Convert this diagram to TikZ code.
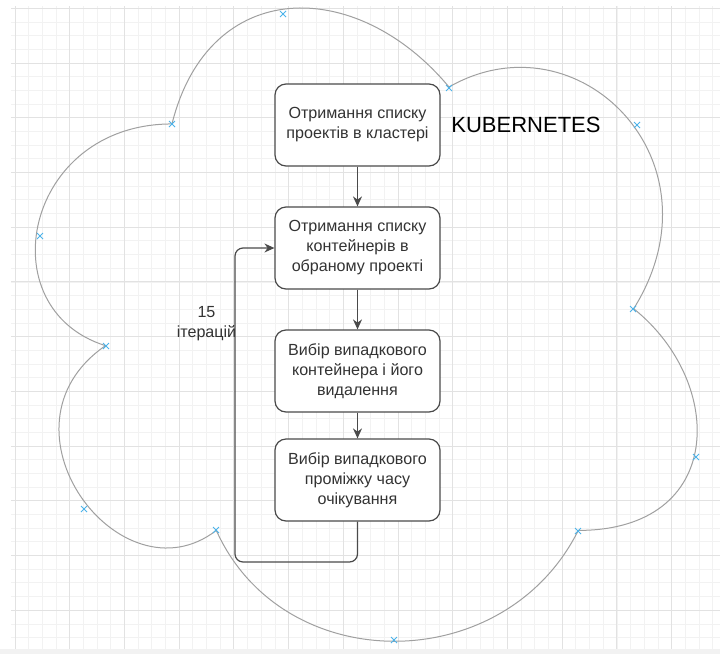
\documentclass[tikz,border=0pt]{standalone}
\usepackage{fontspec}
\setmainfont{Liberation Sans}
\usetikzlibrary{arrows.meta}

\definecolor{gridminor}{HTML}{F2F2F2}
\definecolor{gridmajor}{HTML}{E2E2E2}
\definecolor{cloudline}{HTML}{A0A0A0}
\definecolor{boxline}{HTML}{4A4A4A}
\definecolor{txtgray}{HTML}{333333}
\definecolor{xmark}{HTML}{4CB3EA}

\tikzset{
  stepbox/.style={draw=boxline, line width=1.2pt, rounded corners=11pt, fill=white,
    minimum width=165pt, minimum height=82pt, inner sep=0pt, align=center,
    text=txtgray, font=\fontsize{16.1}{20}\selectfont},
  flow/.style={draw=boxline, line width=1.2pt, -{Stealth[length=10pt,width=9pt]}},
  cross/.style={xmark, line width=0.9pt}
}

\begin{document}
\begin{tikzpicture}[x=1pt, y=-1pt]
  \useasboundingbox (0,0) rectangle (720,654);
  \fill[white] (0,0) rectangle (720,654);
  \fill[black!5] (0,649) rectangle (720,654);
  % grid
  \begin{scope}
    \clip (11,6) rectangle (720,649);
    \foreach \k in {0,...,51}{%
      \draw[gridminor, line width=0.8pt] ({15+13.68*\k},6) -- ({15+13.68*\k},649);
    }
    \foreach \k in {0,...,46}{%
      \draw[gridminor, line width=0.8pt] (11,{8.3+13.68*\k}) -- (720,{8.3+13.68*\k});
    }
    \foreach \k in {0,...,12}{%
      \draw[gridmajor, line width=0.9pt] ({15+54.72*\k},6) -- ({15+54.72*\k},649);
    }
    \foreach \k in {0,...,11}{%
      \draw[gridmajor, line width=0.9pt] (11,{8.3+54.72*\k}) -- (720,{8.3+54.72*\k});
    }
  \end{scope}

  % cloud
  \begin{scope}[shift={(-12.7pt,60.8pt)}, x=738.7pt, y=-739pt]
    \draw[cloudline, line width=1pt] (0.25,0.25)
      .. controls (0.05,0.25) and (0,0.5) .. (0.16,0.55)
      .. controls (0,0.66) and (0.18,0.9) .. (0.31,0.8)
      .. controls (0.4,1) and (0.7,1) .. (0.8,0.8)
      .. controls (1,0.8) and (1,0.6) .. (0.875,0.5)
      .. controls (1,0.3) and (0.8,0.1) .. (0.625,0.2)
      .. controls (0.5,0.05) and (0.3,0.05) .. (0.25,0.25) -- cycle;
  \end{scope}
  \foreach \px/\py in {283/14, 449/88, 637/125, 633/309, 696/457, 578/531,
      394/640, 216/530, 84/509, 106/346, 40/236, 172/124}{%
    \draw[cross] (\px-3,\py-3) -- (\px+3,\py+3) (\px-3,\py+3) -- (\px+3,\py-3);
  }

  \node[font=\fontsize{22}{26}\selectfont] (k8s) at (526,125) {KUBERNETES};

  \node[stepbox] (projects) at (357.5,125) {Отримання списку\\проектів в кластері};
  \node[stepbox] (containers) at (357.5,248) {Отримання списку\\контейнерів в\\обраному проекті};
  \node[stepbox] (remove) at (357.5,371) {Вибір випадкового\\контейнера і його\\видалення};
  \node[stepbox] (wait) at (357.5,480) {Вибір випадкового\\проміжку часу\\очікування};

  \draw[flow] (projects) -- (containers);
  \draw[flow] (containers) -- (remove);
  \draw[flow] (remove) -- (wait);

  \coordinate (loopcorner) at (235,562);
  \draw[flow, rounded corners=8pt] (wait.south) |- (loopcorner) |- (containers.west);

  \node[text=txtgray, align=center, font=\fontsize{16.1}{20}\selectfont] (iter) at (206.5,323.5) {15\\ітерацій};
\end{tikzpicture}
\end{document}
